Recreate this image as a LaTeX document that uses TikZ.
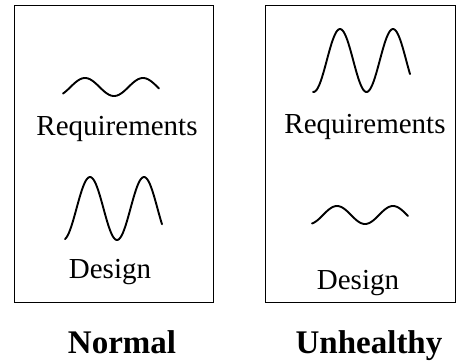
\documentclass[tikz,border=0pt]{standalone}
\usepackage{fontspec}
\setmainfont{Liberation Serif}
\begin{document}
\begin{tikzpicture}[x=1pt,y=-1pt,
  lbl/.style={anchor=base,inner sep=0pt,font=\fontsize{29}{34}\selectfont},
  title/.style={anchor=base,inner sep=0pt,font=\fontsize{33}{40}\selectfont\bfseries},
  wave/.style={line width=1.9pt,line cap=round}]
\useasboundingbox (0,0) rectangle (457,362);
\node[draw=black,line width=0.9pt,inner sep=0pt,minimum width=199pt,minimum height=297pt] (boxL) at (113.5,153.5) {};
\node[draw=black,line width=0.9pt,inner sep=0pt,minimum width=190pt,minimum height=297pt] (boxR) at (360,153.5) {};
% left panel
\draw[wave] plot[domain=63:159,samples=80,smooth] (\x,{87-9*cos((\x-85)/58*360)});
\node[lbl] (reqL) at (117,135) {Requirements};
\draw[wave] plot[domain=65:162,samples=80,smooth] (\x,{208.5-31.5*cos((\x-90)/54*360)});
\node[lbl] (desL) at (110,278) {Design};
% right panel
\draw[wave] plot[domain=313:410,samples=80,smooth] (\x,{60.5-31.5*cos((\x-340)/53*360)});
\node[lbl] (reqR) at (365,133) {Requirements};
\draw[wave] plot[domain=312:408,samples=80,smooth] (\x,{215-9*cos((\x-337)/56*360)});
\node[lbl] (desR) at (358,289) {Design};
% titles
\node[title] (normal) at (122,353.5) {Normal};
\node[title] (unhealthy) at (369,353.5) {Unhealthy};
\end{tikzpicture}
\end{document}
